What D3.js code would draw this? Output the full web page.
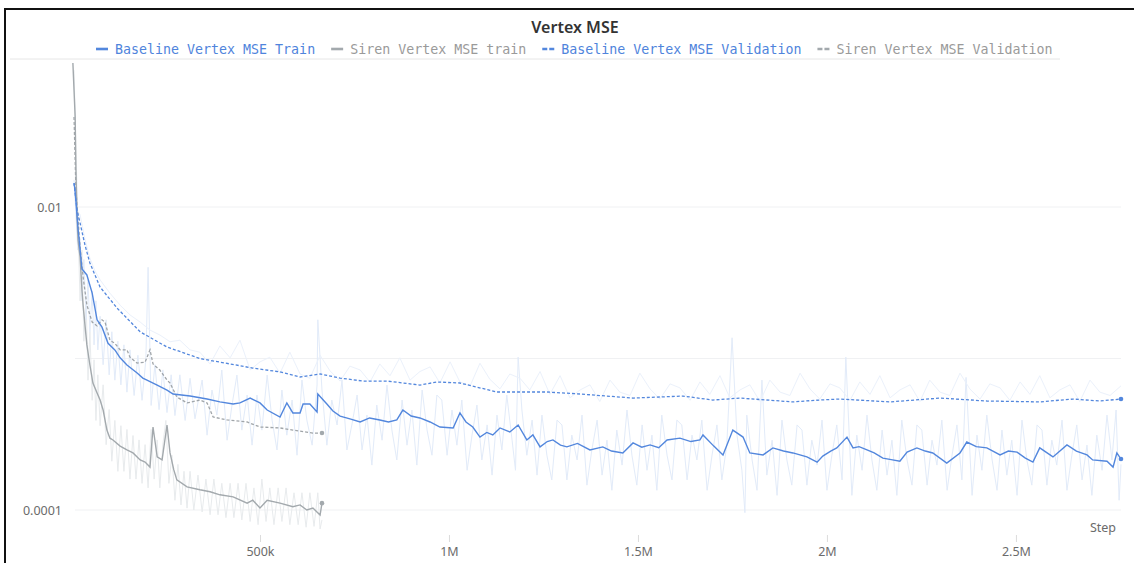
<!DOCTYPE html>
<html lang="en">
<head>
<meta charset="UTF-8">
<title>Vertex MSE</title>
<script src="https://d3js.org/d3.v7.min.js"></script>
<style>
    body { margin: 0; background: #fff; }
    svg { display: block; }
    .tick text { font-family: "Noto Sans", "Open Sans", sans-serif; font-size: 12.5px; fill: #6b6b6b; }
</style>
</head>
<body>
<svg id="chart" width="1134" height="563"></svg>
<script>
// steps are in thousands, values are MSE
const baselineTrain = [[8,0.01439],[10.6,0.01295],[18.5,0.00726],[29,0.0039],[42,0.00356],[56,0.0027],[69,0.0018],[82,0.00161],[98,0.00126],[116,0.00114],[130,0.00101],[148,0.000906],[175,0.000802],[190,0.000743],[201,0.000721],[228,0.000668],[254,0.000619],[270,0.000583],[315,0.000565],[360,0.00054],[394,0.000517],[429,0.000501],[447,0.000509],[474,0.000548],[500,0.000509],[519,0.000457],[553,0.000411],[571,0.000509],[587,0.000437],[606,0.000437],[614,0.000501],[632,0.000501],[651,0.000443],[653,0.000583],[677,0.000501],[693,0.00045],[712,0.000417],[738,0.000399],[765,0.000381],[790,0.000405],[817,0.000393],[840,0.000381],[862,0.000393],[878,0.000457],[900,0.000417],[923,0.000405],[950,0.000381],[976,0.000353],[1011,0.000348],[1029,0.000437],[1045,0.000381],[1063,0.000353],[1082,0.000303],[1100,0.000325],[1116,0.000313],[1135,0.000348],[1161,0.000327],[1183,0.000364],[1206,0.00029],[1222,0.000313],[1241,0.000261],[1260,0.000283],[1275,0.00029],[1295,0.000268],[1312,0.000261],[1340,0.000275],[1373,0.000249],[1407,0.000261],[1430,0.000245],[1460,0.000238],[1487,0.000277],[1510,0.00026],[1532,0.000269],[1555,0.000258],[1577,0.00029],[1611,0.000298],[1640,0.000283],[1664,0.00029],[1672,0.000313],[1700,0.000265],[1725,0.000231],[1751,0.000337],[1778,0.000303],[1796,0.000238],[1831,0.000231],[1857,0.000257],[1885,0.000245],[1910,0.000238],[1947,0.000224],[1974,0.000207],[1989,0.000227],[2010,0.000245],[2026,0.000257],[2053,0.000303],[2069,0.000257],[2085,0.000262],[2106,0.000249],[2125,0.000238],[2148,0.00022],[2170,0.000215],[2193,0.00021],[2212,0.000241],[2238,0.000257],[2260,0.000245],[2280,0.000238],[2317,0.000204],[2352,0.000238],[2370,0.000281],[2395,0.000262],[2423,0.000257],[2458,0.000231],[2480,0.000245],[2503,0.000241],[2525,0.00022],[2545,0.000207],[2563,0.000257],[2598,0.000224],[2635,0.000269],[2660,0.000245],[2688,0.000231],[2703,0.000214],[2741,0.00021],[2757,0.000192],[2767,0.000238],[2778,0.000217]];

const baselineTrainRaw = [[8,0.0151],[13,0.0089],[18,0.0052],[24,0.0061],[29,0.0024],[34,0.0045],[40,0.0018],[45,0.0033],[50,0.0015],[56,0.0028],[61,0.00123],[66,0.0024],[71,0.00114],[77,0.0019],[85,0.00091],[93,0.0018],[101,0.00078],[108,0.0015],[116,0.00072],[124,0.0013],[132,0.00067],[140,0.00123],[148,0.0006],[156,0.00114],[167,0.00057],[177,0.00105],[188,0.00053],[198,0.00098],[204,0.004],[212,0.00049],[222,0.00091],[233,0.00046],[243,0.00084],[254,0.00044],[265,0.00078],[275,0.00042],[288,0.00078],[302,0.00039],[315,0.00074],[328,0.0004],
    [347,0.000721],[360,0.000312],[373,0.000619],[386,0.000423],[399,0.000839],[413,0.000289],[426,0.000493],[439,0.000778],[452,0.000337],[466,0.000574],[479,0.000268],[492,0.000574],[505,0.000337],[519,0.000778],[532,0.000392],[545,0.000249],[558,0.000619],[571,0.000312],[585,0.000532],[598,0.00023],[611,0.000721],[624,0.000392],[638,0.000268],[651,0.000668],[653,0.0018],[664,0.000619],[677,0.000268],[690,0.000532],[704,0.000364],[717,0.000721],[730,0.000249],[743,0.000364],[757,0.000574],[770,0.000249],[783,0.000423],[796,0.000198],[809,0.000493],[823,0.000289],[836,0.000668],[849,0.000337],[862,0.000214],[876,0.000532],[889,0.000268],[902,0.000457],[915,0.000198],[929,0.000619],[942,0.000337],[955,0.00023],[968,0.000574],[981,0.000532],[995,0.00023],[1008,0.000457],[1021,0.000268],[1034,0.000532],[1048,0.000183],[1061,0.000312],[1074,0.000493],[1087,0.000214],[1101,0.000364],[1114,0.00017],[1127,0.000423],[1140,0.000249],[1153,0.000574],[1167,0.000289],[1176,0.000183],[1183,0.00102],[1193,0.000457],[1206,0.00023],[1220,0.000392],[1233,0.00017],[1246,0.000423],[1259,0.00023],[1272,0.000158],[1286,0.000392],[1299,0.000364],[1312,0.000158],[1325,0.000312],[1339,0.000214],[1352,0.000423],[1365,0.000146],[1378,0.000249],[1392,0.000392],[1405,0.00017],[1418,0.000289],[1431,0.000135],[1444,0.000337],[1458,0.000198],[1471,0.000457],[1484,0.00023],[1497,0.000146],[1511,0.000364],[1524,0.000183],[1537,0.000312],[1550,0.000135],[1563,0.000423],[1577,0.00023],[1590,0.000158],[1603,0.000392],[1616,0.000364],[1630,0.000158],[1643,0.000312],[1656,0.000214],[1669,0.000392],[1683,0.000135],[1696,0.00023],[1709,0.000364],[1722,0.000158],[1735,0.000268],[1749,0.00137],[1762,0.000312],[1775,0.000183],[1783,0.000096],[1788,0.000423],[1802,0.000214],[1815,0.000135],[1828,0.00072],[1841,0.00017],[1855,0.000289],[1868,0.000125],[1881,0.000392],[1894,0.000214],[1907,0.000146],[1921,0.000364],[1934,0.000337],[1947,0.000146],[1960,0.000289],[1974,0.000198],[1987,0.000392],[2000,0.000135],[2013,0.00023],[2026,0.000364],[2040,0.000158],[2050,0.00102],[2066,0.000125],[2079,0.000312],[2093,0.000183],[2106,0.000423],[2119,0.000214],[2132,0.000135],[2146,0.000337],[2159,0.00017],[2172,0.000289],[2185,0.000125],[2198,0.000392],[2212,0.000214],[2225,0.000146],[2238,0.000364],[2251,0.000337],[2265,0.000146],[2278,0.000289],[2291,0.000198],[2304,0.000392],[2318,0.000135],[2331,0.00023],[2344,0.000364],[2357,0.000158],[2368,0.00075],[2384,0.000125],[2397,0.000312],[2410,0.000183],[2423,0.000423],[2437,0.000214],[2450,0.000135],[2463,0.000337],[2476,0.00017],[2489,0.000289],[2503,0.000125],[2516,0.000392],[2529,0.000214],[2542,0.000146],[2556,0.000364],[2569,0.000337],[2582,0.000146],[2595,0.000289],[2608,0.000198],[2622,0.000392],[2635,0.000135],[2648,0.00023],[2661,0.000364],[2675,0.000158],[2688,0.000268],[2701,0.000125],[2714,0.000312],[2728,0.000183],[2741,0.000423],[2754,0.000214],[2765,0.000457],[2773,0.000116],[2778,0.0002]];

const baselineVal = [[8,0.01439],[13,0.01112],[16,0.00955],[24,0.00784],[37,0.00561],[50,0.00427],[77,0.00296],[122,0.00215],[183,0.0015],[254,0.00119],[341,0.001],[421,0.00092],[481,0.000865],[553,0.000815],[606,0.000755],[659,0.000791],[712,0.000743],[772,0.00071],[836,0.00071],[923,0.000668],[968,0.0007],[1029,0.000689],[1127,0.000601],[1188,0.000601],[1259,0.000601],[1347,0.000583],[1487,0.000548],[1619,0.000565],[1698,0.000532],[1770,0.000548],[1910,0.000517],[1981,0.000532],[2034,0.00054],[2167,0.000517],[2299,0.000548],[2423,0.000524],[2563,0.000517],[2651,0.00054],[2722,0.000524],[2778,0.00054]];

const baselineValRaw = [[13,0.0095],[24,0.0089],[37,0.0061],[50,0.0046],[63,0.0038],[77,0.0033],[103,0.0027],[130,0.00225],[156,0.00194],[183,0.00174],[209,0.00154],[235,0.00143],[262,0.00129],[288,0.00132],[315,0.00114],
    [341,0.0011],[368,0.00092],[394,0.00121],[421,0.00101],[447,0.00132],[474,0.00084],[500,0.00095],[526,0.00102],[553,0.0008],[579,0.0011],[606,0.00079],[632,0.00074],[659,0.00105],[685,0.00083],[712,0.00071],[738,0.00089],[765,0.00084],[791,0.0007],[817,0.00092],[844,0.00077],[870,0.00101],[897,0.00072],[923,0.00082],[950,0.00088],[976,0.00069],[1003,0.00095],[1029,0.0007],[1056,0.00066],[1082,0.00093],[1108,0.00073],[1135,0.00063],[1161,0.00079],[1188,0.00074],[1214,0.00062],[1241,0.00082],[1267,0.00058],[1294,0.00077],[1320,0.00055],[1347,0.00062],[1373,0.00067],[1399,0.00052],[1426,0.00072],[1452,0.0006],[1479,0.00057],[1505,0.0008],[1532,0.00063],[1558,0.00054],[1585,0.00068],[1611,0.00064],[1638,0.00053],[1664,0.0007],[1690,0.00058],[1717,0.00077],[1743,0.00055],[1770,0.00062],[1796,0.00067],[1823,0.00052],[1849,0.00072],[1876,0.0006],[1902,0.00057],[1929,0.0008],[1955,0.00063],[1981,0.00054],[2008,0.00068],[2034,0.00064],[2061,0.00053],[2087,0.0007],[2114,0.00058],[2140,0.00077],[2167,0.00055],[2193,0.00062],[2220,0.00067],[2246,0.00052],[2272,0.00072],[2299,0.0006],[2325,0.00057],[2352,0.0008],[2378,0.00063],[2405,0.00054],[2431,0.00068],[2458,0.00064],[2484,0.00053],[2511,0.0007],[2537,0.00058],[2563,0.00077],[2590,0.00055],[2616,0.00062],[2643,0.00067],[2669,0.00052],[2696,0.00072],[2722,0.0006],[2749,0.00057],[2778,0.00066]];

const sirenTrain = [[5,0.0892],[8,0.0592],[11,0.0393],[13,0.01754],[16,0.00859],[18.5,0.00605],[24,0.00467],[29,0.00283],[32,0.00225],[37,0.00166],[42,0.00123],[50,0.000906],[58,0.000689],[69,0.000592],[77,0.000532],[85,0.000457],[95,0.000337],[103,0.000298],[111,0.00029],[130,0.000264],[148,0.000249],[164,0.000238],[183,0.000214],[196,0.000207],[209,0.000192],[217,0.000353],[228,0.000224],[241,0.000214],[254,0.000364],[262,0.000238],[272,0.000184],[280,0.000158],[307,0.000142],[341,0.000136],[368,0.000132],[394,0.000126],[429,0.000122],[466,0.000111],[481,0.000116],[500,0.000103],[519,0.000116],[553,0.000111],[587,0.000105],[606,0.000108],[624,0.0001],[640,0.000103],[659,0.0000927],[664,0.000111]];

const sirenTrainRaw = [[8,0.08],[13,0.0238],[18,0.0082],[24,0.0024],[29,0.0052],[34,0.0013],[40,0.0024],[45,0.00072],[50,0.0015],[56,0.00053],[61,0.00098],[66,0.00039],[71,0.00078],[77,0.00036],[85,0.00067],[93,0.00027],[101,0.00046],[108,0.00021],[116,0.00039],[124,0.00018],[132,0.00036],[140,0.00018],[148,0.00034],[156,0.00016],[164,0.00031],[172,0.00016],[180,0.00029],[188,0.00015],[196,0.00027],[204,0.00014],[212,0.00034],[220,0.00016],[228,0.00029],[235,0.00014],[243,0.00027],[251,0.00039],[259,0.00015],[267,0.00023],[275,0.000116],[283,0.0002],[291,0.000108],[299,0.00018],[307,0.000103],[315,0.00018],[325,0.0001],[336,0.00017],[347,0.000097],[357,0.00016],[368,0.000093],[378,0.00016],[389,0.000093],[399,0.00015],[410,0.000089],[421,0.00015],[431,0.000089],[442,0.00015],[452,0.000086],[463,0.00015],[474,0.000084],[484,0.00014],[495,0.00008],[505,0.00016],[516,0.000084],[526,0.00014],[537,0.00008],[548,0.00014],[558,0.000084],[569,0.00014],[579,0.00008],[590,0.00013],[601,0.00008],[611,0.00013],[622,0.000077],[632,0.00013],[643,0.000078],[653,0.00013],[659,0.000075],[664,0.000086]];

const sirenVal = [[8,0.0393],[11,0.0204],[13,0.01295],[24,0.00545],[32,0.00345],[42,0.00225],[56,0.00174],[69,0.00164],[82,0.0018],[90,0.00174],[103,0.00132],[116,0.00126],[130,0.00114],[148,0.00114],[156,0.00102],[175,0.000933],[196,0.000946],[209,0.00114],[217,0.00092],[235,0.000839],[254,0.000721],[262,0.000689],[280,0.000557],[307,0.000509],[341,0.000532],[360,0.000509],[376,0.000411],[413,0.000393],[466,0.000381],[500,0.000353],[553,0.000348],[587,0.000337],[640,0.000322],[664,0.000322]];

const xTicks = [500e3, 1e6, 1.5e6, 2e6, 2.5e6];
const yLabelTicks = [1e-4, 1e-2];
const yGridTicks = [1e-4, 1e-3, 1e-2];

const seriesNames = ["Baseline Vertex MSE Train", "Siren Vertex MSE train",
    "Baseline Vertex MSE Validation", "Siren Vertex MSE Validation"];

const blue = "#5387dd";
const gray = "#a3a9ad";

const svg = d3.select("#chart");

// outer frame
svg.append("rect")
    .attr("x", 5).attr("y", 9)
    .attr("width", 1160).attr("height", 600)
    .attr("fill", "none").attr("stroke", "#111").attr("stroke-width", 2);

const x = d3.scaleLinear().domain([0, 2778e3]).range([71, 1121]);
const y = d3.scaleLog().domain([1e-4, 1e-2]).range([510, 207]);

svg.append("defs").append("clipPath").attr("id", "plot")
    .append("rect").attr("x", 70).attr("y", 60).attr("width", 1060).attr("height", 478);

// grid
svg.append("g").selectAll("line")
    .data(yGridTicks)
    .join("line")
    .attr("x1", 75).attr("x2", 1121)
    .attr("y1", d => y(d)).attr("y2", d => y(d))
    .attr("stroke", "#f0f1f3").attr("stroke-width", 1);

// y axis labels
svg.append("g")
    .attr("transform", "translate(66,0)")
    .call(d3.axisLeft(y).tickValues(yLabelTicks).tickSize(0).tickPadding(4)
        .tickFormat(d => d === 1e-2 ? "0.01" : "0.0001"))
    .call(g => g.select(".domain").remove());

// x axis
svg.append("g")
    .attr("transform", "translate(0,535)")
    .call(d3.axisBottom(x).tickValues(xTicks).tickSize(7).tickPadding(5)
        .tickFormat(d3.format("~s")))
    .call(g => g.select(".domain").remove())
    .call(g => g.selectAll(".tick line").attr("stroke", "#dcdcdc"));

svg.append("text")
    .attr("x", 1116).attr("y", 532)
    .attr("text-anchor", "end")
    .style("font-family", "'Noto Sans', 'Open Sans', sans-serif")
    .style("font-size", "12.5px")
    .attr("fill", "#6b6b6b")
    .text("Step");

const line = d3.line()
    .x(d => x(d[0] * 1000))
    .y(d => y(d[1]));

const plot = svg.append("g").attr("clip-path", "url(#plot)");

// raw (unsmoothed) runs, drawn faint underneath
plot.append("path").datum(sirenTrainRaw)
    .attr("d", line).attr("fill", "none")
    .attr("stroke", "#e8ebed").attr("stroke-width", 1);
plot.append("path").datum(baselineTrainRaw)
    .attr("d", line).attr("fill", "none")
    .attr("stroke", "#e2ebf9").attr("stroke-width", 1);
plot.append("path").datum(baselineValRaw)
    .attr("d", line).attr("fill", "none")
    .attr("stroke", "#ebf1fb").attr("stroke-width", 1);

plot.append("path").datum(sirenVal)
    .attr("d", line).attr("fill", "none")
    .attr("stroke", "#a0a5a9").attr("stroke-width", 1.3)
    .attr("stroke-dasharray", "3,2");
plot.append("path").datum(sirenTrain)
    .attr("d", line).attr("fill", "none")
    .attr("stroke", gray).attr("stroke-width", 1.4);
plot.append("path").datum(baselineVal)
    .attr("d", line).attr("fill", "none")
    .attr("stroke", blue).attr("stroke-width", 1.3)
    .attr("stroke-dasharray", "3,2");
plot.append("path").datum(baselineTrain)
    .attr("d", line).attr("fill", "none")
    .attr("stroke", blue).attr("stroke-width", 1.4);

// end markers
const ends = [
    [baselineTrain, blue], [baselineVal, blue],
    [sirenTrain, gray], [sirenVal, gray]
];
plot.append("g").selectAll("circle")
    .data(ends)
    .join("circle")
    .attr("cx", d => x(d[0][d[0].length - 1][0] * 1000))
    .attr("cy", d => y(d[0][d[0].length - 1][1]))
    .attr("r", 2.3)
    .attr("fill", d => d[1]);

// title
svg.append("text")
    .attr("x", 575).attr("y", 33)
    .attr("text-anchor", "middle")
    .style("font-family", "'Noto Sans', 'Open Sans', sans-serif")
    .style("font-size", "16px")
    .style("font-weight", 600)
    .attr("fill", "#333")
    .text("Vertex MSE");

// legend
const legendItems = [
    { name: seriesNames[0], color: blue, dashed: false },
    { name: seriesNames[1], color: gray, dashed: false },
    { name: seriesNames[2], color: blue, dashed: true },
    { name: seriesNames[3], color: gray, dashed: true }
];
const legend = svg.append("g");
let lx = 96;
legendItems.forEach(item => {
    legend.append("line")
        .attr("x1", lx).attr("x2", lx + 12)
        .attr("y1", 49).attr("y2", 49)
        .attr("stroke", item.color).attr("stroke-width", 2.6)
        .attr("stroke-dasharray", item.dashed ? "5,2" : null);
    const t = legend.append("text")
        .attr("x", lx + 19).attr("y", 54)
        .style("font-family", "'DejaVu Sans Mono', monospace")
        .style("font-size", "13.3px")
        .attr("fill", item.color === blue ? "#4f84dc" : "#9a9a9a")
        .text(item.name);
    lx += 19 + t.node().getComputedTextLength() + 16;
});

svg.append("line")
    .attr("x1", 10).attr("x2", 1060)
    .attr("y1", 59).attr("y2", 59)
    .attr("stroke", "#e6e6e6");
</script>
</body>
</html>
